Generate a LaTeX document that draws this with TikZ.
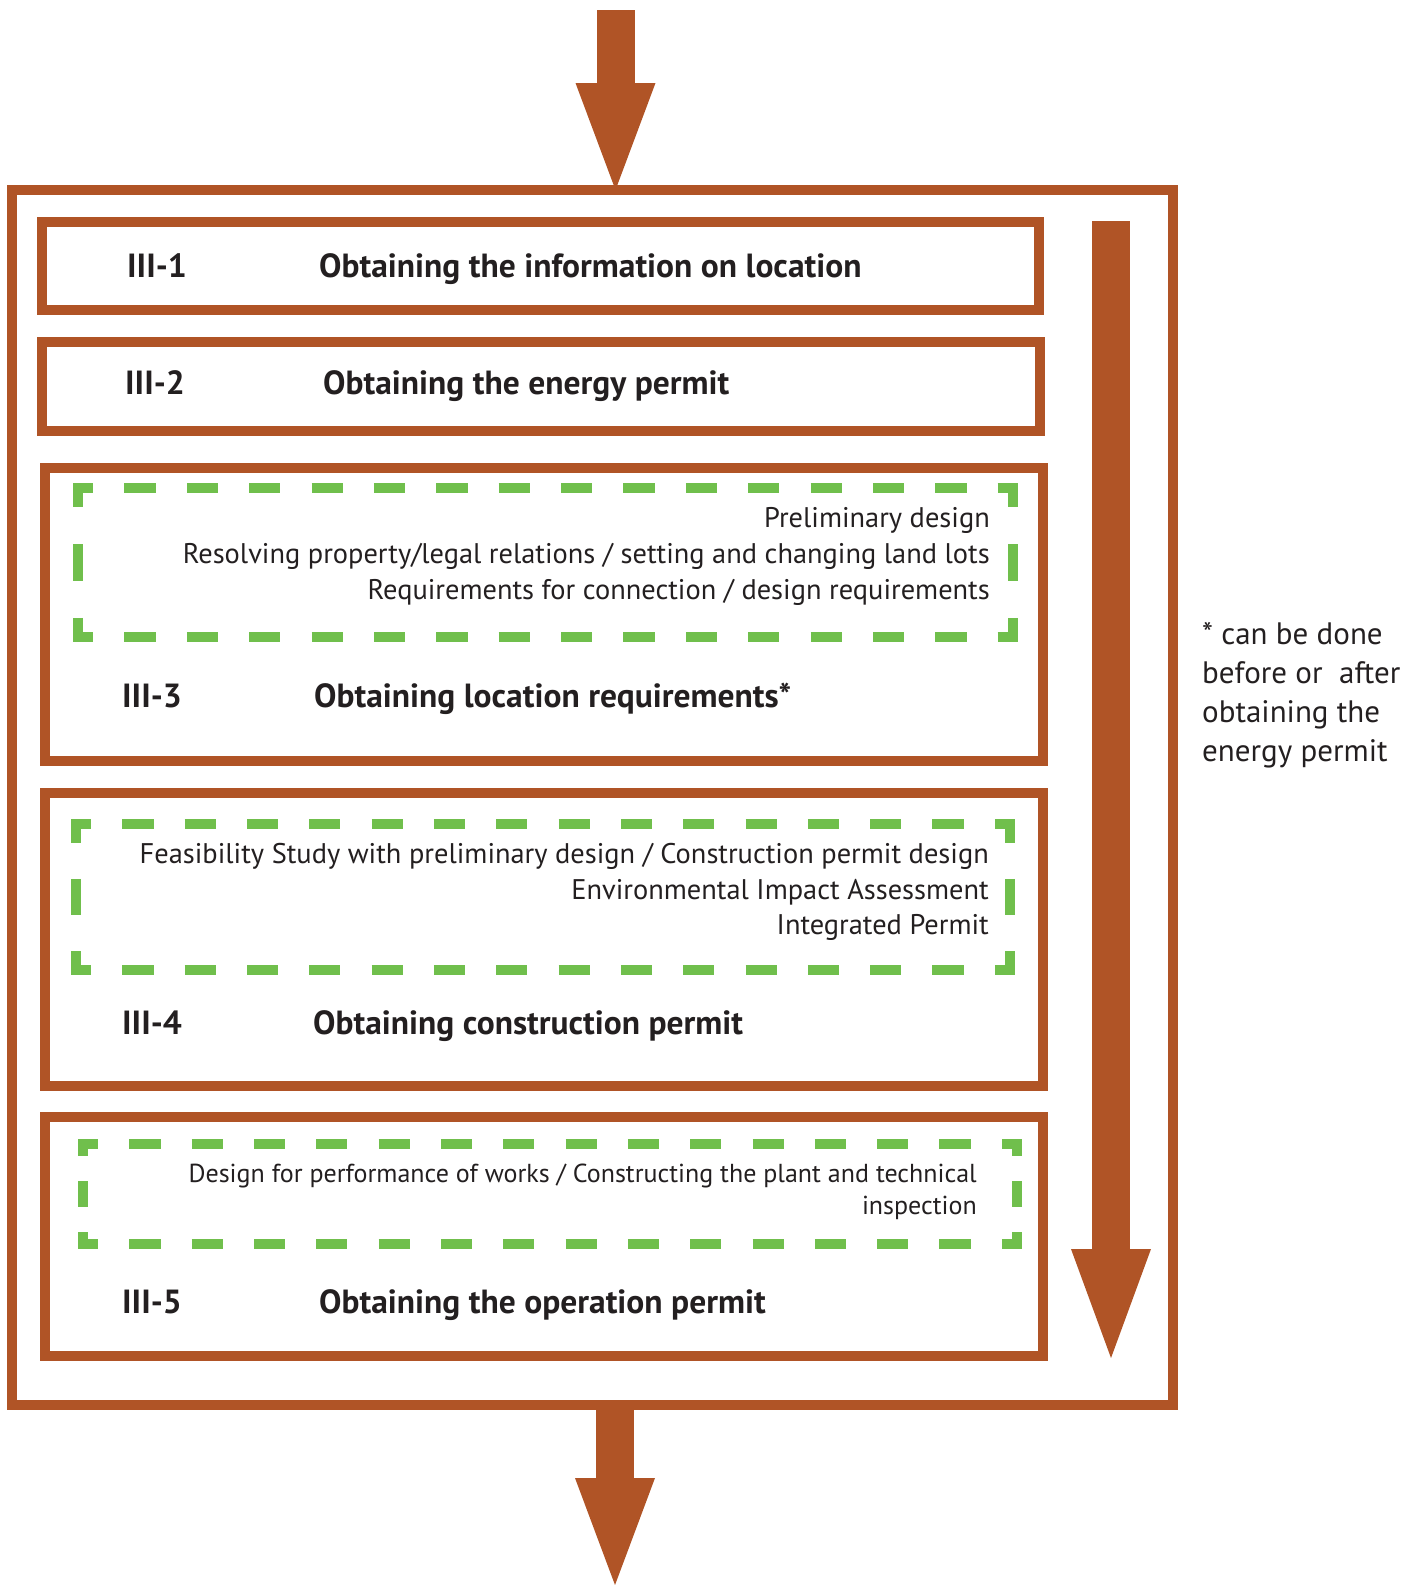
\documentclass[tikz,border=0pt]{standalone}
\usepackage{fontspec}
\setmainfont{PT Sans}
\usetikzlibrary{arrows.meta}
\definecolor{rust}{HTML}{B05426}
\definecolor{leaf}{HTML}{70BF4C}
\definecolor{ink}{HTML}{231F20}
\newcommand{\leafframe}[4]{%
  \pgfmathsetmacro{\lenw}{#3-#1+10}%
  \pgfmathsetmacro{\lenh}{#4-#2+10}%
  \pgfmathsetmacro{\dw}{\lenw/(2*round((\lenw/31-2.3)/2)+2.3)}%
  \pgfmathsetmacro{\dh}{\lenh/(2*round((\lenh/31-2.3)/2)+2.3)}%
  \pgfmathsetmacro{\pw}{0.35*\dw}%
  \pgfmathsetmacro{\ph}{0.35*\dh}%
  \draw[leafdash,dash pattern=on \dw pt off \dw pt,dash phase=\pw pt] (#1-5,#2) -- (#3+5,#2);
  \draw[leafdash,dash pattern=on \dw pt off \dw pt,dash phase=\pw pt] (#1-5,#4) -- (#3+5,#4);
  \draw[leafdash,dash pattern=on \dh pt off \dh pt,dash phase=\ph pt] (#1,#2-5) -- (#1,#4+5);
  \draw[leafdash,dash pattern=on \dh pt off \dh pt,dash phase=\ph pt] (#3,#2-5) -- (#3,#4+5);}
\begin{document}
\begin{tikzpicture}[x=1pt,y=-1pt,
    stage/.style={draw=rust,line width=10pt,inner sep=0pt,outer sep=0pt},
    leafdash/.style={leaf,line width=10pt},
    flow/.style={rust,line width=38pt,-{Triangle[length=107pt,width=80pt,line width=0pt]}},
    tag/.style={anchor=base west,inner sep=0pt,text=ink,font=\fontsize{33.5}{40}\selectfont\bfseries},
    note/.style={inner sep=0pt,text=ink,font=\fontsize{28.4}{35.6}\selectfont}
    ]
    \useasboundingbox (0,0) rectangle (1416,1585);
    \node[stage,minimum width=1161pt,minimum height=1215pt] (frame) at (592.5,797.5) {};
    \node[stage,minimum width=997pt,minimum height=88pt] (s1) at (540.5,266) {};
    \node[stage,minimum width=997.5pt,minimum height=89pt] (s2) at (540.75,386.5) {};
    \node[stage,minimum width=998pt,minimum height=293pt] (s3) at (544,614.5) {};
    \node[stage,minimum width=998pt,minimum height=293pt] (s4) at (544,939.5) {};
    \node[stage,minimum width=998pt,minimum height=239pt] (s5) at (544,1236.5) {};
    \leafframe{78}{488}{1013}{637}
    \leafframe{76}{824}{1010}{970}
    \leafframe{83}{1144}{1017}{1244}
    \node[tag] (n1) at (127,277) {III-1};
    \node[tag] (t1) at (319,277) {Obtaining the information on location};
    \node[tag] (n2) at (125,394) {III-2};
    \node[tag] (t2) at (323,394) {Obtaining the energy permit};
    \node[tag] (n3) at (122,707) {III-3};
    \node[tag] (t3) at (314,707) {Obtaining location requirements*};
    \node[tag] (n4) at (122,1034) {III-4};
    \node[tag] (t4) at (313,1034) {Obtaining construction permit};
    \node[tag] (n5) at (122,1313) {III-5};
    \node[tag] (t5) at (319,1313) {Obtaining the operation permit};
    \node[note,anchor=east,align=right] (d3) at (990,556.5) {Preliminary design\\Resolving property/legal relations / setting and changing land lots\\Requirements for connection / design requirements};
    \node[note,anchor=east,align=right] (d4) at (989,892) {Feasibility Study with preliminary design / Construction permit design\\Environmental Impact Assessment\\Integrated Permit};
    \node[note,anchor=east,align=right,font=\fontsize{26}{32.6}\selectfont] (d5) at (977,1192) {Design for performance of works / Constructing the plant and technical\\inspection};
    \node[note,anchor=west,align=left,font=\fontsize{31}{38.9}\selectfont] (aside) at (1202,695.5) {* can be done\\before or~ after\\obtaining the\\energy permit};
    \coordinate (intop) at (615.5,10);
    \coordinate (outend) at (615,1585);
    \coordinate (runtop) at (1111,221);
    \coordinate (runend) at (1111,1358);
    \draw[flow] (intop) -- (intop |- frame.north);
    \draw[flow] (outend |- frame.south) -- (outend);
    \draw[flow,-{Triangle[length=109pt,width=80pt,line width=0pt]}] (runtop) -- (runend);
\end{tikzpicture}
\end{document}
